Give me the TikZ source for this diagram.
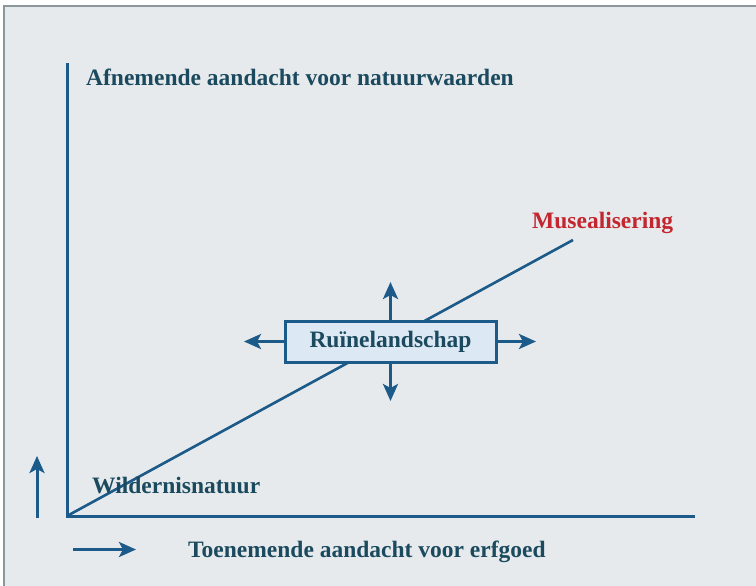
\documentclass[tikz,border=0pt]{standalone}
\usepackage{fontspec}
\setmainfont{Liberation Serif}
\usetikzlibrary{arrows.meta}
\definecolor{bg}{HTML}{E6EAED}
\definecolor{frame}{HTML}{8C979C}
\definecolor{axis}{HTML}{1C5A8A}
\definecolor{txt}{HTML}{1B4A5E}
\definecolor{redtxt}{HTML}{C3262E}
\definecolor{boxfill}{HTML}{DCE8F3}
\tikzset{
  lbl/.style={anchor=base west, inner sep=0pt, font=\fontsize{23.5}{28}\selectfont\bfseries, text=txt},
  axisline/.style={draw=axis, line width=3pt},
  arr/.style={draw=axis, line width=3pt, -{Stealth[length=17pt,width=15pt,inset=4pt]}},
}
\begin{document}
\begin{tikzpicture}[x=1pt,y=-1pt]
\useasboundingbox (0,0) rectangle (756,586);
\fill[white] (0,0) rectangle (756,586);
\fill[bg] (4,6) rectangle (756,586);
\draw[frame, line width=1.2pt] (4,586) -- (4,6) -- (756,6);
% axes
\coordinate (O) at (67,516);
\coordinate (Ytop) at (67,63);
\coordinate (Xend) at (695,516);
\coordinate (Dend) at (573,240);
\draw[axisline] (Ytop) -- (O) -- (Xend);
\draw[axisline, line width=2.6pt, line cap=butt] (O) -- (Dend);
% box
\node[draw=axis, line width=3pt, fill=boxfill, minimum width=211pt, minimum height=41pt, inner sep=0pt,
      font=\fontsize{23.5}{28}\selectfont\bfseries, text=txt] (box) at (390.5,341.5) {Ruïnelandschap};
\coordinate (up) at (390.5,282);
\coordinate (down) at (390.5,401);
\coordinate (left) at (244,341.5);
\coordinate (right) at (536,341.5);
\draw[arr] (box.north) -- (up);
\draw[arr] (box.south) -- (down);
\draw[arr] (box.west) -- (left);
\draw[arr] (box.east) -- (right);
% labels
\node[lbl] (ylab) at (86,85) {Afnemende aandacht voor natuurwaarden};
\node[lbl, text=redtxt] (mus) at (532,228) {Musealisering};
\node[lbl] (wild) at (92,493) {Wildernisnatuur};
\node[lbl] (xlab) at (188,557) {Toenemende aandacht voor erfgoed};
% small arrows
\coordinate (ua0) at (37,518);
\coordinate (ua1) at (37,456);
\coordinate (ra0) at (73,549.5);
\coordinate (ra1) at (136,549.5);
\draw[arr] (ua0) -- (ua1);
\draw[arr] (ra0) -- (ra1);
\end{tikzpicture}
\end{document}
